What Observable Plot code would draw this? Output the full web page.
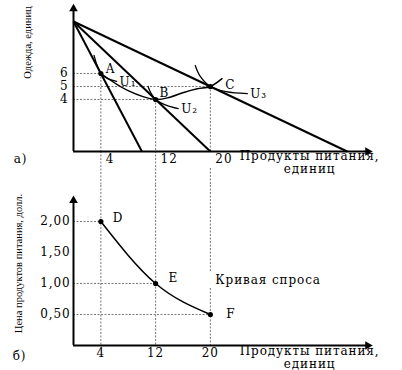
<!DOCTYPE html>
<html><head><meta charset="utf-8">
<script src="https://cdn.jsdelivr.net/npm/d3@7"></script>
<script src="https://cdn.jsdelivr.net/npm/@observablehq/plot@0.6"></script>
<style>
body{margin:0;background:#fff;}
#chart{width:402px;height:370px;}
#chart svg{display:block;}
#chart svg text{letter-spacing:0.9px;}
#chart svg text[transform*="rotate"]{letter-spacing:0;}
</style></head><body><div id="chart"></div>
<script>
// ---- data ----
const food = [4, 12, 20];                 // food quantities at A,B,C and D,E,F
const clothing = [6, 4, 5];               // clothing at A,B,C
const price = [2.00, 1.00, 0.50];         // food price at D,E,F
const topPointLabels = ["A", "B", "C"];
const bottomPointLabels = ["D", "E", "F"];
const budgetFoodIntercepts = [10, 20, 40];
const budgetClothingIntercept = 10;
const U1 = [[3.0, 7.4], [3.4, 6.7], [4, 6], [5, 5.6], [6.3, 5.4]];
const U2 = [[10.9, 5.0], [11.3, 4.5], [12, 4], [13.6, 3.55], [15.3, 3.3]];
const U3 = [[17.8, 6.6], [18.5, 5.8], [20, 5], [22.3, 4.6], [25.4, 4.45]];
const priceConsumption = [[4, 6], [7.9, 4.7], [12, 4], [14.1, 4.18], [16.1, 4.54], [18.1, 4.82], [20, 5], [21.7, 5.6]];
const uLabels = ["U₁", "U₂", "U₃"];
const xTicks = [4, 12, 20];
const yTicksTop = [4, 5, 6];
const yTicksBottom = [0.5, 1.0, 1.5, 2.0];
const xTitle = "Продукты питания,\nединиц";
const yTitleTop = "Одежда, единиц";
const yTitleBottom = "Цена продуктов питания, долл.";
const demandLabel = "Кривая спроса";
const panelLabels = ["а)", "б)"];

// ---- layout ----
const W = 402, H = 185;
const xMax = 43.4;
const mL = 73, mR = 32;
const topM = {t: 5, b: 34}, yMaxTop = 11.23;
const botM = {t: 12, b: 25}, yMaxBot = 2.387;
const pxTop = (H - topM.t - topM.b) / yMaxTop;
const pxBot = (H - botM.t - botM.b) / yMaxBot;
const bottomEdgeTop = -topM.b / pxTop;
const topEdgeBot = yMaxBot + botM.t / pxBot;
const serif = "DejaVu Serif";
const dash = {stroke: "#777", strokeWidth: 1, strokeDasharray: "2,1.5"};
const fmt = d => d3.format(".2f")(d).replace(".", ",");

const ptsTop = food.map((f, i) => ({f, c: clothing[i], label: topPointLabels[i]}));
const ptsBot = food.map((f, i) => ({f, p: price[i], label: bottomPointLabels[i]}));
const Us = [U1, U2, U3];

const topOff = [[5, -4], [4, -6], [15, -1]];
const botOff = [[12, -3], [13, -5], [16, 0]];

const panelA = Plot.plot({
  width: W, height: H, marginLeft: mL, marginRight: mR, marginTop: topM.t, marginBottom: topM.b,
  x: {domain: [0, xMax], axis: null},
  y: {domain: [0, yMaxTop], axis: null},
  style: {fontFamily: serif, fontSize: "12px", background: "white", color: "black"},
  marks: [
    Plot.ruleY(ptsTop, {y: "c", x1: 0, x2: "f", ...dash}),
    Plot.ruleX(ptsTop, {x: "f", y1: "c", y2: 0, ...dash}),
    Plot.ruleX(ptsTop, {x: "f", y1: (d, i) => i === 2 ? -17 / pxTop : 0, y2: bottomEdgeTop, ...dash}),
    Plot.link(budgetFoodIntercepts, {x1: 0, y1: budgetClothingIntercept, x2: d => d, y2: 0, stroke: "black", strokeWidth: 2}),
    ...Us.map(u => Plot.line(u, {x: d => d[0], y: d => d[1], curve: "catmull-rom", stroke: "black", strokeWidth: 1.3})),
    ...Us.map((u, i) => Plot.text([u[u.length - 1]], {x: d => d[0], y: d => d[1], text: () => uLabels[i], textAnchor: "start", dx: 3, dy: 1})),
    Plot.line(priceConsumption, {x: d => d[0], y: d => d[1], curve: "catmull-rom", stroke: "black", strokeWidth: 1.5}),
    Plot.ruleY([0], {x1: 0, x2: xMax - 0.3, stroke: "black", strokeWidth: 2}),
    Plot.ruleX([0], {y1: 0, y2: yMaxTop - 0.3, stroke: "black", strokeWidth: 2}),
    Plot.dot([0], {x: xMax - 0.4, y: 0, symbol: "triangle", rotate: 90, r: 3.2, fill: "black", stroke: null}),
    Plot.dot([0], {x: 0, y: yMaxTop - 0.25, symbol: "triangle", r: 3.2, fill: "black", stroke: null}),
    Plot.dot(ptsTop, {x: "f", y: "c", r: 2.6, fill: "black", stroke: null}),
    ...ptsTop.map((d, i) => Plot.text([d], {x: "f", y: "c", text: "label", textAnchor: "start", dx: topOff[i][0], dy: topOff[i][1]})),
    Plot.axisX({ticks: xTicks, tickSize: 0, tickPadding: 3, textAnchor: "start", dx: 5, fontSize: 12, label: null}),
    Plot.axisY({ticks: yTicksTop, tickSize: 0, tickPadding: 5, fontSize: 12, label: null}),
    Plot.text([xTitle], {x: 34.5, y: 0, lineAnchor: "top", dy: 0, textAnchor: "middle", lineHeight: 1.05}),
    Plot.text([yTitleTop], {frameAnchor: "top-left", dx: -46, dy: 37, rotate: -90, textAnchor: "middle", lineAnchor: "middle", fontFamily: "Liberation Serif", fontSize: 10.5}),
    Plot.text([panelLabels[0]], {frameAnchor: "bottom-left", dx: -53, dy: 8, textAnchor: "middle", lineAnchor: "middle"})
  ]
});

const panelB = Plot.plot({
  width: W, height: H, marginLeft: mL, marginRight: mR, marginTop: botM.t, marginBottom: botM.b,
  x: {domain: [0, xMax], axis: null},
  y: {domain: [0, yMaxBot], axis: null},
  style: {fontFamily: serif, fontSize: "12px", background: "white", color: "black"},
  marks: [
    Plot.ruleY(ptsBot, {y: "p", x1: 0, x2: "f", ...dash}),
    Plot.ruleX(ptsBot.slice(0, 2), {x: "f", y1: topEdgeBot, y2: 0, ...dash}),
    Plot.ruleX([ptsBot[2]], {x: "f", y1: topEdgeBot, y2: 1.18, ...dash}),
    Plot.ruleX([ptsBot[2]], {x: "f", y1: 0.92, y2: 0, ...dash}),
    Plot.line(ptsBot, {x: "f", y: "p", curve: "natural", stroke: "black", strokeWidth: 1.5}),
    Plot.ruleY([0], {x1: 0, x2: xMax - 0.3, stroke: "black", strokeWidth: 2}),
    Plot.ruleX([0], {y1: 0, y2: yMaxBot - 0.06, stroke: "black", strokeWidth: 2}),
    Plot.dot([0], {x: xMax - 0.4, y: 0, symbol: "triangle", rotate: 90, r: 3.2, fill: "black", stroke: null}),
    Plot.dot([0], {x: 0, y: yMaxBot - 0.05, symbol: "triangle", r: 3.2, fill: "black", stroke: null}),
    Plot.dot(ptsBot, {x: "f", y: "p", r: 2.6, fill: "black", stroke: null}),
    ...ptsBot.map((d, i) => Plot.text([d], {x: "f", y: "p", text: "label", textAnchor: "start", dx: botOff[i][0], dy: botOff[i][1]})),
    Plot.text([demandLabel], {x: food[2], y: 1.05, textAnchor: "start", dx: 5}),
    Plot.axisX({ticks: xTicks, tickSize: 0, tickPadding: 3, fontSize: 12, label: null}),
    Plot.axisY({ticks: yTicksBottom, tickSize: 0, tickPadding: 3, tickFormat: fmt, fontSize: 12, label: null}),
    Plot.text([xTitle], {x: 34.5, y: 0, lineAnchor: "top", dy: 1, textAnchor: "middle", lineHeight: 1.05}),
    Plot.text([yTitleBottom], {frameAnchor: "top-left", dx: -55, dy: 66, rotate: -90, textAnchor: "middle", lineAnchor: "middle", fontFamily: "Liberation Serif", fontSize: 10.5}),
    Plot.text([panelLabels[1]], {frameAnchor: "bottom-left", dx: -54, dy: 11, textAnchor: "middle", lineAnchor: "middle"})
  ]
});

document.getElementById("chart").append(panelA, panelB);
</script></body></html>
